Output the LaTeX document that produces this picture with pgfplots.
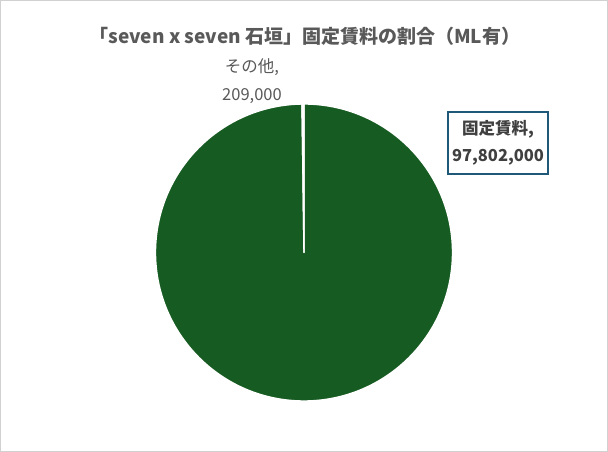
\documentclass[border=0pt]{standalone}
\usepackage{pgfplots}
\pgfplotsset{compat=1.18}
\usepackage{fontspec}
\setmainfont{Noto Sans CJK JP}
\definecolor{piegreen}{RGB}{22,91,33}
\definecolor{boxblue}{RGB}{31,88,120}
\definecolor{titlegray}{RGB}{89,89,89}
\definecolor{labeldark}{RGB}{64,64,64}
\begin{document}
\begin{tikzpicture}
% values in millions of yen
\def\valA{97.802}% 固定賃料
\def\valB{0.209}% その他
\pgfmathsetmacro\angA{\valA/(\valA+\valB)*360}
\begin{axis}[
  hide axis, scale only axis, clip=false,
  x=1pt, y=1pt,
  xmin=0, xmax=608, ymin=0, ymax=452,
]
\draw[black!18, line width=1pt] (axis cs:0.5,0.5) rectangle (axis cs:607.5,451.5);
% pie slices, clockwise from 12 o'clock
\filldraw[fill=piegreen, draw=white, line width=1.4pt, line join=round]
  (axis cs:304,199.5) -- ++(90:148.5pt)
  arc[start angle=90, end angle=90-\angA, radius=148.5pt] -- cycle;
\filldraw[fill=white, draw=white, line width=1.4pt, line join=round]
  (axis cs:304,199.5) -- ++(90-\angA:148.5pt)
  arc[start angle=90-\angA, end angle=-270, radius=148.5pt] -- cycle;
% title
\node[text=titlegray, font=\fontsize{19}{22}\selectfont\bfseries]
  at (axis cs:305,416) {「seven x seven 石垣」固定賃料の割合（ML有）};
% data labels
\node[text=titlegray, align=center, font=\fontsize{16.5}{28}\selectfont]
  at (axis cs:252,371) {その他,\\209,000};
\node[draw=boxblue, line width=1.5pt, fill=white, text=labeldark, align=center,
  minimum width=100pt, minimum height=62pt, inner sep=1pt,
  font=\fontsize{16.5}{27}\selectfont\bfseries]
  at (axis cs:498,309) {固定賃料,\\97,802,000};
\end{axis}
\end{tikzpicture}
\end{document}
